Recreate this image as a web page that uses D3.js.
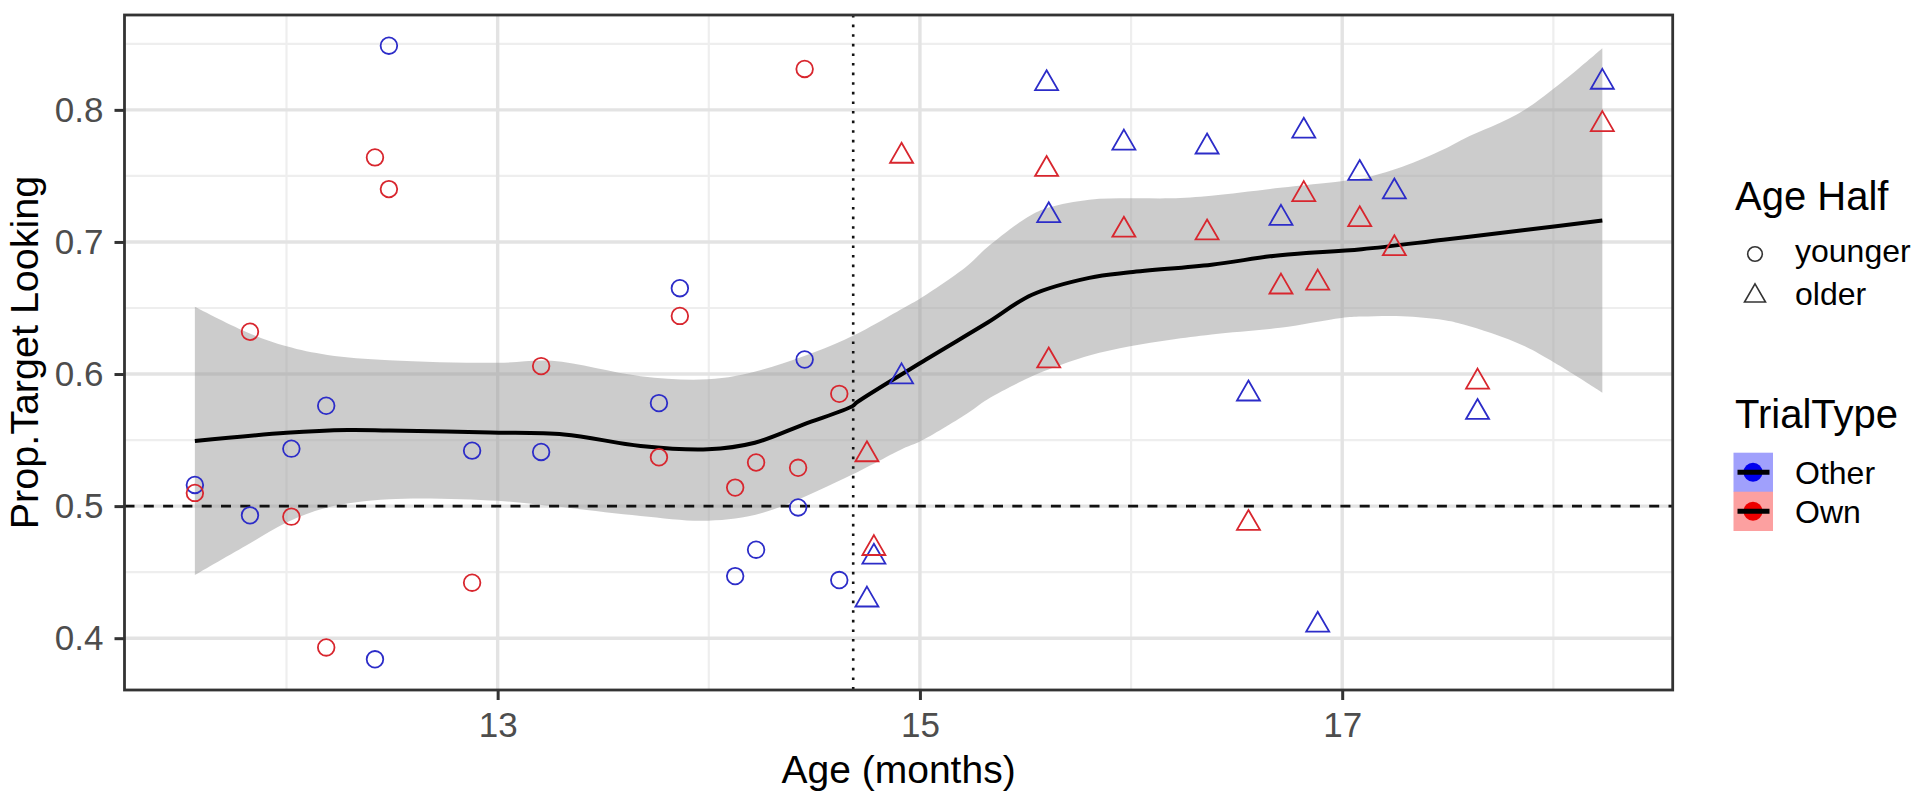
<!DOCTYPE html>
<html>
<head>
<meta charset="utf-8">
<script src="https://cdn.jsdelivr.net/npm/d3@7"></script>
<style>
  html, body { margin: 0; padding: 0; background: #ffffff; }
  svg { display: block; font-family: "Liberation Sans", Arial, Helvetica, sans-serif; }
</style>
</head>
<body>
<svg id="chart" width="1920" height="807"></svg>
<script>
// ---------------- DATA ----------------
// Younger half: age (months), prop. target looking for Other / Own trials
const youngerAge   = [11.566, 11.827, 12.023, 12.188, 12.419, 12.485, 12.879, 13.206, 13.764, 13.863, 14.125, 14.224, 14.423, 14.454, 14.618];
const youngerOther = [0.516, 0.493, 0.5435, 0.576, 0.384, 0.8486, 0.542, 0.541, 0.578, 0.665, 0.447, 0.467, 0.499, 0.611, 0.444];
const youngerOwn   = [0.510, 0.632, 0.492, 0.393, 0.764, 0.740, 0.442, 0.606, 0.537, 0.644, 0.514, 0.533, 0.529, 0.831, 0.585];

// Older half
const olderAge   = [14.749, 14.782, 14.913, 15.600, 15.610, 15.966, 16.360, 16.556, 16.710, 16.818, 16.884, 17.083, 17.247, 17.641, 18.232];
const olderOther = [0.429, 0.4615, 0.598, 0.820, 0.720, 0.775, 0.772, 0.585, 0.718, 0.784, 0.410, 0.752, 0.738, 0.571, 0.821];
const olderOwn   = [0.539, 0.468, 0.765, 0.755, 0.610, 0.709, 0.707, 0.487, 0.666, 0.736, 0.669, 0.717, 0.695, 0.594, 0.789];

// Loess smooth (fit and confidence band)
const smoothAge   = [11.566, 12.0, 12.29, 12.485, 12.966, 13.314, 13.677, 13.996, 14.218, 14.45, 14.681, 14.701, 15.029, 15.319, 15.531, 15.802, 15.995, 16.381, 16.706, 17.092, 17.479, 17.865, 18.232];
const smoothFit   = [0.5493, 0.5555, 0.5576, 0.5572, 0.5557, 0.5543, 0.5455, 0.543, 0.548, 0.5619, 0.5757, 0.5785, 0.611, 0.6388, 0.660, 0.6728, 0.677, 0.6828, 0.690, 0.6945, 0.7017, 0.709, 0.7163];
const bandAge     = [11.566, 11.807, 12.0, 12.194, 12.485, 13.0, 13.256, 13.677, 13.996, 14.256, 14.643, 14.933, 15.0, 15.222, 15.319, 15.513, 15.609, 15.802, 15.995, 16.188, 16.381, 16.706, 16.996, 17.092, 17.285, 17.479, 17.575, 17.865, 18.232];
const bandUpper   = [0.6509, 0.632, 0.621, 0.6145, 0.6105, 0.6085, 0.610, 0.5984, 0.596, 0.6035, 0.626, 0.651, 0.657, 0.6816, 0.696, 0.719, 0.726, 0.732, 0.733, 0.733, 0.735, 0.741, 0.746, 0.748, 0.757, 0.770, 0.778, 0.800, 0.8466];
const bandLower   = [0.4478, 0.470, 0.4876, 0.499, 0.5052, 0.504, 0.500, 0.4926, 0.489, 0.495, 0.521, 0.5445, 0.549, 0.570, 0.5808, 0.597, 0.6035, 0.614, 0.621, 0.626, 0.630, 0.635, 0.6425, 0.6435, 0.6438, 0.641, 0.6375, 0.621, 0.5859];

const chanceLevel = 0.5;
const medianSplit = 14.684;

const xTicks = [13, 15, 17];
const xMinor = [12, 14, 16, 18];
const yTicks = [0.4, 0.5, 0.6, 0.7, 0.8];
const yMinor = [0.45, 0.55, 0.65, 0.75, 0.85];

const trialTypes = ["Other", "Own"];
const ageHalves = ["younger", "older"];

// ---------------- LAYOUT ----------------
const svg = d3.select("#chart");
const P = { left: 124.5, right: 1672.7, top: 15, bottom: 690 };

const allAge = youngerAge.concat(olderAge);
const allVal = youngerOther.concat(youngerOwn, olderOther, olderOwn);
const xExt = d3.extent(allAge), yExt = d3.extent(allVal);
const xPad = (xExt[1] - xExt[0]) * 0.05, yPad = (yExt[1] - yExt[0]) * 0.05;

const x = d3.scaleLinear().domain([xExt[0] - xPad, xExt[1] + xPad]).range([P.left, P.right]);
const y = d3.scaleLinear().domain([yExt[0] - yPad, yExt[1] + yPad]).range([P.bottom, P.top]);

const colorPt = { Other: "#2c2cc8", Own: "#d8262e" };
const colorKey = { Other: "#a0a0fc", Own: "#fca0a0" };
const colorDot = { Other: "#0000ee", Own: "#ee0000" };

// panel background
svg.append("rect").attr("x", P.left).attr("y", P.top)
  .attr("width", P.right - P.left).attr("height", P.bottom - P.top).attr("fill", "#fff");

const grid = svg.append("g");
// minor grid
grid.selectAll(".ym").data(yMinor).join("line")
  .attr("x1", P.left).attr("x2", P.right).attr("y1", d => y(d)).attr("y2", d => y(d))
  .attr("stroke", "#eeeeee").attr("stroke-width", 2.2);
grid.selectAll(".xm").data(xMinor).join("line")
  .attr("y1", P.top).attr("y2", P.bottom).attr("x1", d => x(d)).attr("x2", d => x(d))
  .attr("stroke", "#eeeeee").attr("stroke-width", 2.2);
// major grid
grid.selectAll(".yM").data(yTicks).join("line")
  .attr("x1", P.left).attr("x2", P.right).attr("y1", d => y(d)).attr("y2", d => y(d))
  .attr("stroke", "#e3e3e3").attr("stroke-width", 3.4);
grid.selectAll(".xM").data(xTicks).join("line")
  .attr("y1", P.top).attr("y2", P.bottom).attr("x1", d => x(d)).attr("x2", d => x(d))
  .attr("stroke", "#e3e3e3").attr("stroke-width", 3.4);

// ribbon
const band = bandAge.map((a, i) => ({ a, lo: bandLower[i], hi: bandUpper[i] }));
svg.append("path").datum(band)
  .attr("d", d3.area().x(d => x(d.a)).y0(d => y(d.lo)).y1(d => y(d.hi)).curve(d3.curveCatmullRom))
  .attr("fill", "#999999").attr("fill-opacity", 0.5);

// smooth line
const fit = smoothAge.map((a, i) => ({ a, v: smoothFit[i] }));
svg.append("path").datum(fit)
  .attr("d", d3.line().x(d => x(d.a)).y(d => y(d.v)).curve(d3.curveCatmullRom))
  .attr("fill", "none").attr("stroke", "#000").attr("stroke-width", 4);

// reference lines
svg.append("line").attr("x1", P.left).attr("x2", P.right)
  .attr("y1", y(chanceLevel)).attr("y2", y(chanceLevel))
  .attr("stroke", "#111").attr("stroke-width", 2.6).attr("stroke-dasharray", "10,9.3");
svg.append("line").attr("y1", P.top).attr("y2", P.bottom)
  .attr("x1", x(medianSplit)).attr("x2", x(medianSplit))
  .attr("stroke", "#111").attr("stroke-width", 2.6).attr("stroke-dasharray", "2.6,7");

// points
const pts = [];
youngerAge.forEach((a, i) => {
  pts.push({ a, v: youngerOther[i], t: "Other", h: "younger" });
  pts.push({ a, v: youngerOwn[i], t: "Own", h: "younger" });
});
olderAge.forEach((a, i) => {
  pts.push({ a, v: olderOther[i], t: "Other", h: "older" });
  pts.push({ a, v: olderOwn[i], t: "Own", h: "older" });
});
function triPath(s) {
  const h = s * Math.sqrt(3) / 2;
  return `M0,${-2 * h / 3}L${s / 2},${h / 3}L${-s / 2},${h / 3}Z`;
}
const ptG = svg.append("g");
ptG.selectAll("circle").data(pts.filter(d => d.h === "younger")).join("circle")
  .attr("cx", d => x(d.a)).attr("cy", d => y(d.v)).attr("r", 8.3)
  .attr("fill", "none").attr("stroke", d => colorPt[d.t]).attr("stroke-width", 1.8);
ptG.selectAll("path").data(pts.filter(d => d.h === "older")).join("path")
  .attr("transform", d => `translate(${x(d.a)},${y(d.v)})`)
  .attr("d", triPath(23))
  .attr("fill", "none").attr("stroke", d => colorPt[d.t]).attr("stroke-width", 1.8);

// panel border
svg.append("rect").attr("x", P.left).attr("y", P.top)
  .attr("width", P.right - P.left).attr("height", P.bottom - P.top)
  .attr("fill", "none").attr("stroke", "#333").attr("stroke-width", 2.8);

// axes
const yAxis = svg.append("g").attr("transform", `translate(${P.left},0)`)
  .call(d3.axisLeft(y).tickValues(yTicks).tickSize(10).tickPadding(11).tickFormat(d3.format(".1f")));
const xAxis = svg.append("g").attr("transform", `translate(0,${P.bottom})`)
  .call(d3.axisBottom(x).tickValues(xTicks).tickSize(10).tickPadding(12).tickFormat(d3.format("d")));
[yAxis, xAxis].forEach(g => {
  g.select(".domain").remove();
  g.selectAll(".tick line").attr("stroke", "#333").attr("stroke-width", 3);
  g.selectAll(".tick text").attr("fill", "#4d4d4d").style("font-size", "35px")
    .style("font-family", '"Liberation Sans", Arial, sans-serif');
});

// axis titles
svg.append("text").attr("x", (P.left + P.right) / 2).attr("y", 783)
  .attr("text-anchor", "middle").style("font-size", "39px").attr("fill", "#000")
  .text("Age (months)");
svg.append("text").attr("transform", `translate(38,${(P.top + P.bottom) / 2}) rotate(-90)`)
  .attr("text-anchor", "middle").style("font-size", "39.5px").attr("fill", "#000")
  .text("Prop.Target Looking");

// legend: Age Half
const lg = svg.append("g");
lg.append("text").attr("x", 1735).attr("y", 210).style("font-size", "40px").text("Age Half");
const shapeY = [254, 296];
ageHalves.forEach((h, i) => {
  if (h === "younger") {
    lg.append("circle").attr("cx", 1755).attr("cy", shapeY[i]).attr("r", 7.3)
      .attr("fill", "none").attr("stroke", "#333").attr("stroke-width", 1.6);
  } else {
    lg.append("path").attr("transform", `translate(1755,${shapeY[i]})`).attr("d", triPath(21))
      .attr("fill", "none").attr("stroke", "#333").attr("stroke-width", 1.6);
  }
  lg.append("text").attr("x", 1795).attr("y", shapeY[i] + 8 + (i === 0 ? 0 : 1))
    .style("font-size", "32px").text(h);
});

// legend: TrialType
lg.append("text").attr("x", 1735).attr("y", 428).style("font-size", "40px").text("TrialType");
const keyY = [452.7, 491.7];
trialTypes.forEach((t, i) => {
  lg.append("rect").attr("x", 1733.5).attr("y", keyY[i]).attr("width", 39.5).attr("height", 39.3)
    .attr("fill", colorKey[t]);
  lg.append("circle").attr("cx", 1753).attr("cy", keyY[i] + 19.5).attr("r", 9.5)
    .attr("fill", colorDot[t]);
  lg.append("line").attr("x1", 1737.5).attr("x2", 1769.5)
    .attr("y1", keyY[i] + 19.5).attr("y2", keyY[i] + 19.5)
    .attr("stroke", "#000").attr("stroke-width", 5);
  lg.append("text").attr("x", 1795).attr("y", keyY[i] + 31).style("font-size", "32px").text(t);
});
</script>
</body>
</html>
